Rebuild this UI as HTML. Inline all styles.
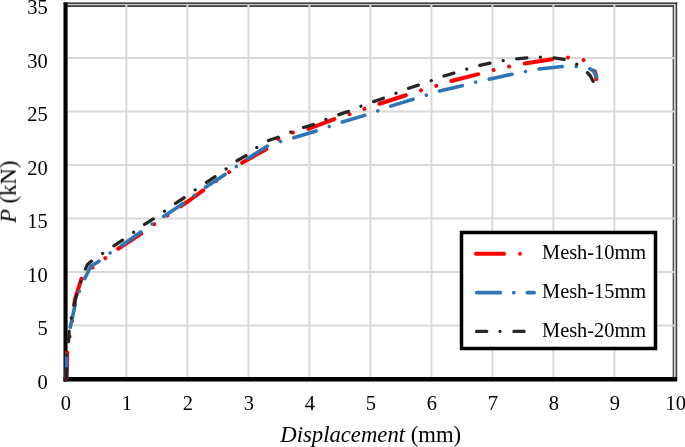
<!DOCTYPE html>
<html><head><meta charset="utf-8"><style>
html,body{margin:0;padding:0;background:#fff;width:685px;height:447px;overflow:hidden}
svg{display:block}
text{will-change:transform}
text{font-family:"Liberation Serif",serif;fill:#000}
</style></head><body>
<svg width="685" height="447" viewBox="0 0 685 447">
<rect width="685" height="447" fill="#fff"/>
<rect x="66" y="5.1" width="608" height="1.9" fill="#404040"/>
<rect x="672.65" y="5.1" width="1.35" height="373" fill="#404040"/>
<g stroke="#d9d9d9" stroke-width="2" fill="none">
<line x1="126.4" y1="4.1" x2="126.4" y2="379" /><line x1="187.4" y1="4.1" x2="187.4" y2="379" /><line x1="248.4" y1="4.1" x2="248.4" y2="379" /><line x1="309.4" y1="4.1" x2="309.4" y2="379" /><line x1="370.4" y1="4.1" x2="370.4" y2="379" /><line x1="431.4" y1="4.1" x2="431.4" y2="379" /><line x1="492.4" y1="4.1" x2="492.4" y2="379" /><line x1="553.4" y1="4.1" x2="553.4" y2="379" /><line x1="614.4" y1="4.1" x2="614.4" y2="379" /><line x1="65.4" y1="325.5" x2="674" y2="325.5" /><line x1="65.4" y1="272.0" x2="674" y2="272.0" /><line x1="65.4" y1="218.5" x2="674" y2="218.5" /><line x1="65.4" y1="165.0" x2="674" y2="165.0" /><line x1="65.4" y1="111.5" x2="674" y2="111.5" /><line x1="65.4" y1="58.0" x2="674" y2="58.0" /><line x1="65.4" y1="4.6" x2="675.6" y2="4.6" stroke-width="1"/><line x1="674.75" y1="4.1" x2="674.75" y2="379" stroke-width="1.7"/>
</g>
<rect x="63.5" y="2.4" width="613.8" height="1.7" fill="#404040"/>
<rect x="675.6" y="2.4" width="1.6" height="378" fill="#404040"/>
<g stroke="#000" fill="none">
<line x1="65.55" y1="2.4" x2="65.55" y2="381.4" stroke-width="4.1"/>
<line x1="63.5" y1="379.2" x2="677.2" y2="379.2" stroke-width="4.4"/>
</g>
<g fill="none" stroke-linecap="round" stroke-linejoin="round">
<polyline points="66.3,379.0 67.1,365.0 67.2,351.5 71.2,327.0 74.9,299.5 81.9,277.5 87.5,271.0 92.5,267.5 105.0,258.4 117.7,249.0 142.3,232.8 154.3,224.2 166.0,216.5 190.0,200.0 203.7,190.0 229.3,172.0 241.6,163.1 270.0,147.0 278.0,139.5 293.0,132.5 308.0,129.0 334.3,119.1 349.2,114.3 364.6,108.8 378.5,104.1 406.3,95.1 420.9,90.4 436.1,85.9 450.4,81.3 478.5,74.1 493.5,70.1 509.0,66.6 523.7,63.6 552.7,59.1 567.8,57.5 583.2,59.8 590.5,65.0 594.8,71.3 596.2,76.0 596.3,79.3" stroke="#ff0000" stroke-width="4" stroke-dasharray="27.7 15.920 0.01 15.860 0.01 15.920" stroke-dashoffset="1.198"/>
<polyline points="66.5,379.0 66.5,367.0 66.6,354.0 69.9,329.0 72.3,318.0 74.9,305.6 79.3,291.3 84.6,278.8 90.9,266.3 99.4,260.9 110.2,252.9 121.2,246.0 141.4,231.5 152.0,224.2 163.6,216.5 183.7,203.0 194.2,195.4 205.5,187.4 225.7,174.0 236.4,166.4 247.5,158.6 268.0,145.7 280.4,141.6 293.3,137.8 316.6,130.8 329.0,126.6 341.9,122.2 365.7,115.1 377.5,111.0 390.1,106.3 413.9,99.0 426.3,95.2 438.4,91.3 463.0,85.5 475.6,82.2 488.8,79.3 512.8,74.1 525.5,71.5 538.8,69.1 563.0,66.4 576.0,66.5 588.8,68.3 593.3,70.6 596.4,76.8" stroke="#2e75b6" stroke-width="3.6" stroke-dasharray="23.4 13.805 0.01 13.805" stroke-dashoffset="50.180"/>
<polyline points="66.5,379.0 66.8,355.0 68.5,342.0 69.1,331.7 71.3,318.0 75.6,298.5 80.7,281.9 84.7,270.6 87.4,264.8 90.3,262.0 92.3,260.6 102.5,253.6 113.6,246.0 123.0,239.8 133.6,232.3 144.3,224.5 153.7,218.7 164.4,211.3 175.2,203.5 184.2,197.7 195.0,190.0 206.4,182.5 215.4,176.5 226.0,169.0 236.7,160.9 246.1,155.5 256.8,147.5 268.0,140.7 278.3,137.2 290.6,132.2 303.6,127.5 313.9,124.3 326.0,119.4 338.8,114.6 348.6,111.3 360.8,106.3 372.7,101.9 383.9,98.1 395.8,93.4 408.0,88.4 418.8,85.0 431.2,80.7 443.7,76.1 454.5,73.0 466.6,69.2 479.4,65.4 490.6,62.9 503.1,60.7 516.1,58.9 527.3,57.8 540.4,57.2 553.6,57.9 564.3,59.5 576.6,64.2 586.8,72.0 590.3,75.8 593.2,81.4" stroke="#262626" stroke-width="3.3" stroke-dasharray="10.3 13.555 0.01 13.555" stroke-dashoffset="0.008"/>
</g>
<g font-size="20.5">
<text x="47.7" y="388.7" text-anchor="end">0</text><text x="47.7" y="335.2" text-anchor="end">5</text><text x="47.7" y="281.7" text-anchor="end">10</text><text x="47.7" y="228.2" text-anchor="end">15</text><text x="47.7" y="174.7" text-anchor="end">20</text><text x="47.7" y="121.2" text-anchor="end">25</text><text x="47.7" y="67.7" text-anchor="end">30</text><text x="47.7" y="14.2" text-anchor="end">35</text>
<text x="65.8" y="409.9" text-anchor="middle">0</text><text x="126.8" y="409.9" text-anchor="middle">1</text><text x="187.8" y="409.9" text-anchor="middle">2</text><text x="248.8" y="409.9" text-anchor="middle">3</text><text x="309.8" y="409.9" text-anchor="middle">4</text><text x="370.8" y="409.9" text-anchor="middle">5</text><text x="431.8" y="409.9" text-anchor="middle">6</text><text x="492.8" y="409.9" text-anchor="middle">7</text><text x="553.8" y="409.9" text-anchor="middle">8</text><text x="614.8" y="409.9" text-anchor="middle">9</text><text x="675.8" y="409.9" text-anchor="middle">10</text>
</g>
<text x="15.6" y="191.8" font-size="22.7" text-anchor="middle" transform="rotate(-90 15.6 191.8)"><tspan font-style="italic">P</tspan> (kN)</text>
<text x="370.7" y="441.5" font-size="22.7" text-anchor="middle"><tspan font-style="italic">Displacement</tspan> (mm)</text>
<rect x="461.5" y="232.5" width="194" height="116" fill="#fff" stroke="#000" stroke-width="3.5"/>
<g fill="none" stroke-linecap="round">
<path d="M476 253.8 H504.2 M520 253.8 h0.01" stroke="#ff0000" stroke-width="4"/>
<path d="M476.8 292.7 H500.2 M513.8 292.7 h0.01 M527.4 292.7 H534.1" stroke="#2e75b6" stroke-width="3.8"/>
<path d="M476.5 331.4 H486.8 M500 331.4 h0.01 M513.9 331.4 H524.1" stroke="#262626" stroke-width="3.2"/>
</g>
<g font-size="20.4">
<text x="542" y="259.3">Mesh-10mm</text>
<text x="542" y="298.2">Mesh-15mm</text>
<text x="542" y="337">Mesh-20mm</text>
</g>
</svg>
</body></html>
